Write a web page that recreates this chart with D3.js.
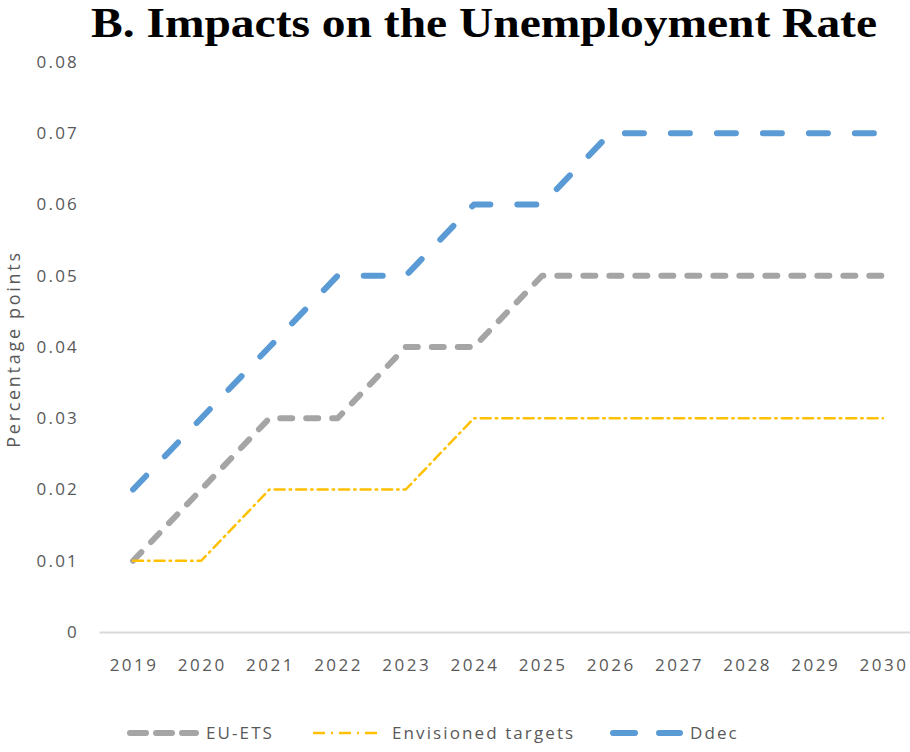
<!DOCTYPE html>
<html>
<head>
<meta charset="utf-8">
<script src="https://cdn.jsdelivr.net/npm/d3@7/dist/d3.min.js"></script>
<style>
  html, body { margin: 0; padding: 0; background: #fff; }
  svg { display: block; }
</style>
</head>
<body>
<svg id="chart" width="910" height="752"></svg>
<script>
// Years on the horizontal axis
const years = ["2019","2020","2021","2022","2023","2024","2025","2026","2027","2028","2029","2030"];

// Impact on the unemployment rate, percentage points
const euEts      = [0.01,0.02,0.03,0.03,0.04,0.04,0.05,0.05,0.05,0.05,0.05,0.05];
const envisioned = [0.01,0.01,0.02,0.02,0.02,0.03,0.03,0.03,0.03,0.03,0.03,0.03];
const ddec       = [0.02,0.03,0.04,0.05,0.05,0.06,0.06,0.07,0.07,0.07,0.07,0.07];

const yTicks = [0,0.01,0.02,0.03,0.04,0.05,0.06,0.07,0.08];
const yTickLabels = ["0","0.01","0.02","0.03","0.04","0.05","0.06","0.07","0.08"];

const seriesNames = ["EU-ETS","Envisioned targets","Ddec"];

const svg = d3.select("#chart");
const sansFont = "'Open Sans', 'Noto Sans', sans-serif";
const textGrey = "#595959";

const x = d3.scaleBand().domain(years).range([99, 917]).padding(0);
const xc = d => x(d) + x.bandwidth() / 2;
const y = d3.scaleLinear().domain([0, 0.08]).range([632, 62]);

// Title
svg.append("text")
  .attr("x", 484).attr("y", 37)
  .attr("text-anchor", "middle")
  .attr("font-family", "'Liberation Serif', 'Times New Roman', serif")
  .attr("font-weight", "bold")
  .attr("font-size", 42)
  .attr("textLength", 786)
  .attr("lengthAdjust", "spacingAndGlyphs")
  .attr("fill", "#000")
  .text("B. Impacts on the Unemployment Rate");

// Y axis (labels only)
const yAxis = d3.axisLeft(y)
  .tickValues(yTicks)
  .tickSize(0)
  .tickPadding(0)
  .tickFormat((d, i) => yTickLabels[i]);
const gy = svg.append("g").attr("transform", "translate(79,0)").call(yAxis);
gy.select(".domain").remove();
gy.selectAll("text")
  .attr("font-family", sansFont)
  .attr("font-size", 17)
  .attr("letter-spacing", 2.2)
  .attr("fill", textGrey);

// Y axis title
svg.append("text")
  .attr("transform", "translate(20,349) rotate(-90)")
  .attr("text-anchor", "middle")
  .attr("font-family", sansFont)
  .attr("font-size", 18)
  .attr("letter-spacing", 2.7)
  .attr("fill", textGrey)
  .text("Percentage points");

// X axis: baseline and year labels
const xAxis = d3.axisBottom(x).tickSize(0).tickPadding(0);
const gx = svg.append("g").attr("transform", `translate(0,${y(0)})`).call(xAxis);
gx.select(".domain")
  .attr("stroke", "#d9d9d9")
  .attr("stroke-width", 2);
gx.selectAll("text")
  .attr("x", 1)
  .attr("y", 39)
  .attr("dy", 0)
  .attr("font-family", sansFont)
  .attr("font-size", 17)
  .attr("letter-spacing", 2.5)
  .attr("fill", textGrey);

// Series lines
const styles = [
  { data: euEts,      color: "#a5a5a5", width: 6,   dash: "12,14",        cap: "round" },
  { data: envisioned, color: "#ffc000", width: 2.5, dash: "10,5,1.5,5",   cap: "round" },
  { data: ddec,       color: "#5b9bd5", width: 6,   dash: "19,27",        cap: "round" }
];

const line = d3.line()
  .x((d, i) => xc(years[i]))
  .y(d => y(d));

styles.forEach(s => {
  svg.append("path")
    .datum(s.data)
    .attr("d", line)
    .attr("fill", "none")
    .attr("stroke", s.color)
    .attr("stroke-width", s.width)
    .attr("stroke-dasharray", s.dash)
    .attr("stroke-linecap", s.cap)
    .attr("stroke-linejoin", "round");
});

// Legend
const legendY = 733;
const legendItems = [
  { x0: 130, x1: 196, tx: 206 },
  { x0: 313, x1: 383, tx: 392 },
  { x0: 613, x1: 680, tx: 690 }
];
const legend = svg.append("g");
legendItems.forEach((it, i) => {
  const s = styles[i];
  legend.append("line")
    .attr("x1", it.x0).attr("x2", it.x1)
    .attr("y1", legendY).attr("y2", legendY)
    .attr("stroke", s.color)
    .attr("stroke-width", s.width)
    .attr("stroke-dasharray", i === 0 ? "16,10" : i === 1 ? "12,6,2,6" : "22,24")
    .attr("stroke-linecap", i === 1 ? "butt" : "round");
  legend.append("text")
    .attr("x", it.tx).attr("y", legendY)
    .attr("dy", "0.35em")
    .attr("font-family", sansFont)
    .attr("font-size", 17)
    .attr("letter-spacing", 2.1)
    .attr("fill", textGrey)
    .text(seriesNames[i]);
});
</script>
</body>
</html>
